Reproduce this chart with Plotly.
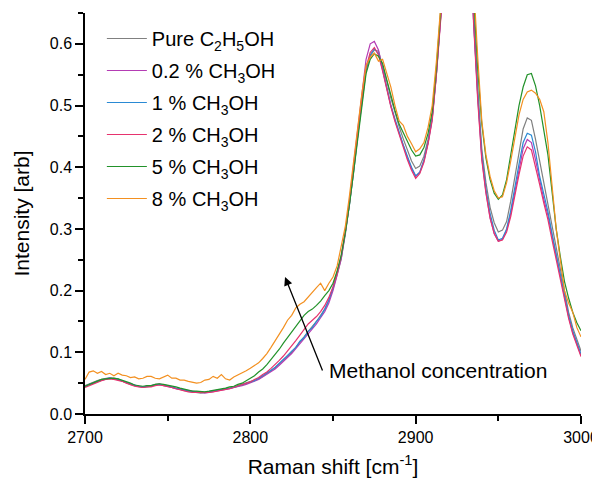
import plotly.graph_objects as go

# Raman shift sampling grid (cm^-1), every 2.5 cm^-1 from 2700 to 3000
wavenumber = [2700 + 2.5 * i for i in range(121)]

pure_c2h5oh = [
    .046, .049, .052, .054, .056, .058, .059, .058,
    .057, .053, .050, .048, .046, .044, .043, .044,
    .045, .048, .049, .047, .046, .043, .042, .040,
    .038, .037, .036, .035, .034, .035, .036, .037,
    .038, .040, .041, .042, .044, .046, .048, .050,
    .052, .055, .057, .061, .065, .070, .075, .081,
    .087, .094, .100, .108, .116, .125, .134, .142,
    .150, .160, .170, .184, .203, .226, .252, .292,
    .338, .392, .452, .508, .556, .580, .590, .588,
    .566, .540, .512, .488, .466, .446, .428, .410,
    .398, .402, .418, .445, .482, .552, .640, .740,
    .850, .935, .985, .995, .955, .825, .650, .530,
    .430, .375, .335, .310, .295, .298, .312, .345,
    .385, .425, .462, .480, .476, .445, .410, .375,
    .340, .302, .268, .230, .196, .165, .140, .120,
    .102]
meoh_0_2 = [
    .045, .047, .050, .053, .055, .057, .058, .057,
    .056, .053, .051, .048, .046, .045, .044, .045,
    .045, .046, .048, .046, .045, .043, .041, .040,
    .038, .037, .036, .035, .035, .034, .035, .036,
    .037, .038, .040, .041, .043, .044, .046, .048,
    .050, .053, .056, .060, .064, .068, .073, .079,
    .085, .091, .098, .106, .114, .122, .130, .138,
    .146, .156, .166, .180, .200, .225, .252, .296,
    .345, .405, .465, .525, .575, .600, .604, .590,
    .560, .528, .500, .476, .455, .434, .415, .398,
    .385, .392, .410, .440, .478, .550, .645, .750,
    .860, .940, .990, .995, .960, .820, .640, .515,
    .415, .360, .318, .292, .280, .283, .298, .325,
    .362, .398, .430, .445, .440, .412, .378, .348,
    .322, .288, .255, .220, .188, .158, .132, .112,
    .095]
meoh_1 = [
    .044, .048, .050, .053, .055, .057, .058, .057,
    .056, .054, .051, .049, .046, .045, .044, .045,
    .045, .047, .048, .047, .046, .044, .042, .041,
    .039, .037, .036, .036, .035, .035, .036, .037,
    .038, .039, .040, .041, .043, .045, .047, .049,
    .052, .054, .058, .062, .066, .071, .076, .082,
    .088, .095, .102, .108, .118, .124, .134, .140,
    .150, .158, .170, .185, .205, .228, .255, .295,
    .340, .395, .455, .510, .560, .582, .592, .584,
    .558, .530, .500, .478, .455, .436, .418, .400,
    .386, .392, .412, .440, .480, .550, .640, .740,
    .850, .930, .980, .990, .950, .820, .640, .520,
    .420, .365, .325, .298, .282, .285, .300, .330,
    .370, .405, .440, .455, .452, .425, .385, .355,
    .328, .292, .258, .222, .190, .160, .135, .115,
    .097]
meoh_2 = [
    .043, .046, .049, .052, .054, .056, .057, .056,
    .055, .053, .050, .047, .045, .044, .043, .044,
    .044, .046, .047, .046, .045, .043, .041, .039,
    .037, .036, .035, .035, .034, .034, .035, .036,
    .037, .038, .040, .041, .043, .045, .047, .049,
    .052, .056, .059, .064, .068, .074, .080, .087,
    .094, .102, .110, .119, .128, .138, .146, .152,
    .158, .166, .176, .189, .206, .228, .256, .296,
    .342, .400, .458, .512, .562, .586, .594, .582,
    .556, .526, .498, .474, .452, .430, .412, .395,
    .382, .390, .408, .438, .476, .548, .640, .745,
    .850, .930, .980, .990, .950, .815, .635, .510,
    .412, .358, .318, .293, .280, .282, .295, .320,
    .355, .388, .418, .433, .428, .402, .372, .342,
    .315, .282, .250, .216, .185, .155, .130, .110,
    .093]
meoh_5 = [
    .045, .048, .051, .054, .056, .057, .058, .058,
    .057, .055, .052, .050, .047, .046, .045, .046,
    .046, .048, .049, .048, .047, .045, .044, .042,
    .040, .038, .037, .037, .036, .036, .037, .038,
    .039, .041, .042, .044, .045, .048, .050, .054,
    .058, .062, .068, .073, .080, .088, .096, .105,
    .115, .124, .134, .143, .152, .160, .166, .170,
    .176, .183, .192, .200, .212, .232, .258, .295,
    .340, .395, .450, .505, .552, .575, .584, .580,
    .568, .542, .515, .492, .470, .455, .440, .428,
    .418, .420, .432, .455, .490, .560, .650, .750,
    .860, .940, .990, 1.00, .960, .840, .680, .560,
    .470, .415, .380, .358, .348, .355, .380, .420,
    .460, .500, .530, .550, .552, .532, .500, .460,
    .420, .360, .300, .255, .215, .188, .165, .148,
    .135]
meoh_8 = [
    .056, .068, .070, .066, .069, .064, .066, .062,
    .066, .063, .062, .059, .060, .057, .058, .061,
    .061, .058, .057, .060, .063, .058, .058, .055,
    .055, .053, .052, .050, .051, .055, .056, .061,
    .058, .064, .057, .055, .060, .063, .066, .070,
    .074, .078, .083, .090, .098, .108, .118, .128,
    .140, .152, .160, .172, .178, .182, .190, .198,
    .205, .212, .200, .212, .222, .240, .270, .305,
    .355, .412, .470, .520, .565, .578, .585, .572,
    .575, .552, .530, .500, .475, .468, .450, .438,
    .425, .430, .440, .465, .500, .570, .660, .760,
    .870, .950, 1.00, 1.01, .970, .860, .700, .580,
    .475, .420, .385, .362, .350, .352, .375, .410,
    .450, .485, .510, .522, .525, .520, .510, .490,
    .440, .370, .300, .250, .200, .180, .165, .140,
    .125]

series_names = [
    "Pure C<sub>2</sub>H<sub>5</sub>OH",
    "0.2 % CH<sub>3</sub>OH",
    "1 % CH<sub>3</sub>OH",
    "2 % CH<sub>3</sub>OH",
    "5 % CH<sub>3</sub>OH",
    "8 % CH<sub>3</sub>OH",
]
series_values = [pure_c2h5oh, meoh_0_2, meoh_1, meoh_2, meoh_5, meoh_8]
series_colors = ["#808080", "#b43cb4", "#2a8ad4", "#e6336e", "#22922a", "#f39020"]

FONT = "Arial, 'Liberation Sans', sans-serif"

fig = go.Figure()
for i, (name, vals, col) in enumerate(zip(series_names, series_values, series_colors)):
    fig.add_trace(go.Scatter(
        x=wavenumber, y=vals, mode="lines", name=name,
        legendgroup=f"g{i}",
        line=dict(color=col, width=1.2),
    ))

fig.add_annotation(
    x=2821, y=0.222, ax=2844, ay=0.068, xref="x", yref="y", axref="x", ayref="y",
    text="", showarrow=True, arrowhead=2, arrowsize=1.3, arrowwidth=1.3, arrowcolor="black",
)
fig.add_annotation(
    x=2846.5, y=0.071, xref="x", yref="y", text="Methanol concentration",
    showarrow=False, xanchor="left", yanchor="middle",
    font=dict(size=21, color="black", family=FONT),
)

axis_common = dict(
    showline=True, linecolor="black", linewidth=1.5, mirror=False,
    ticks="outside", ticklen=8, tickwidth=1.5, tickcolor="black",
    showgrid=False, zeroline=False, automargin=False,
    ticklabeloverflow="allow",
    tickfont=dict(size=16, color="black", family=FONT),
)

fig.update_xaxes(
    range=[2700, 3000], dtick=100, tick0=2700,
    title=dict(text="Raman shift [cm<sup>-1</sup>]", font=dict(size=21, color="black", family=FONT), standoff=18),
    minor=dict(ticks="outside", ticklen=5, tickwidth=1.5, tickcolor="black", dtick=50),
    **axis_common,
)
fig.update_yaxes(
    range=[0, 0.65], dtick=0.1, tick0=0, tickformat=".1f",
    title=dict(text="Intensity [arb]", font=dict(size=21, color="black", family=FONT), standoff=14),
    minor=dict(ticks="outside", ticklen=5, tickwidth=1.5, tickcolor="black", dtick=0.05),
    **axis_common,
)

# the page body adds an 8 px offset, so margins are reduced by that amount
fig.update_layout(
    width=592, height=470,
    margin=dict(l=77, r=19, t=5, b=64),
    plot_bgcolor="white", paper_bgcolor="white",
    font=dict(family=FONT, color="black"),
    showlegend=True,
    legend=dict(
        x=0.034, y=0.985, xanchor="left", yanchor="top",
        font=dict(size=20, color="black", family=FONT),
        bgcolor="rgba(0,0,0,0)", tracegroupgap=3, itemwidth=40,
    ),
)

fig.write_html("out.html")
